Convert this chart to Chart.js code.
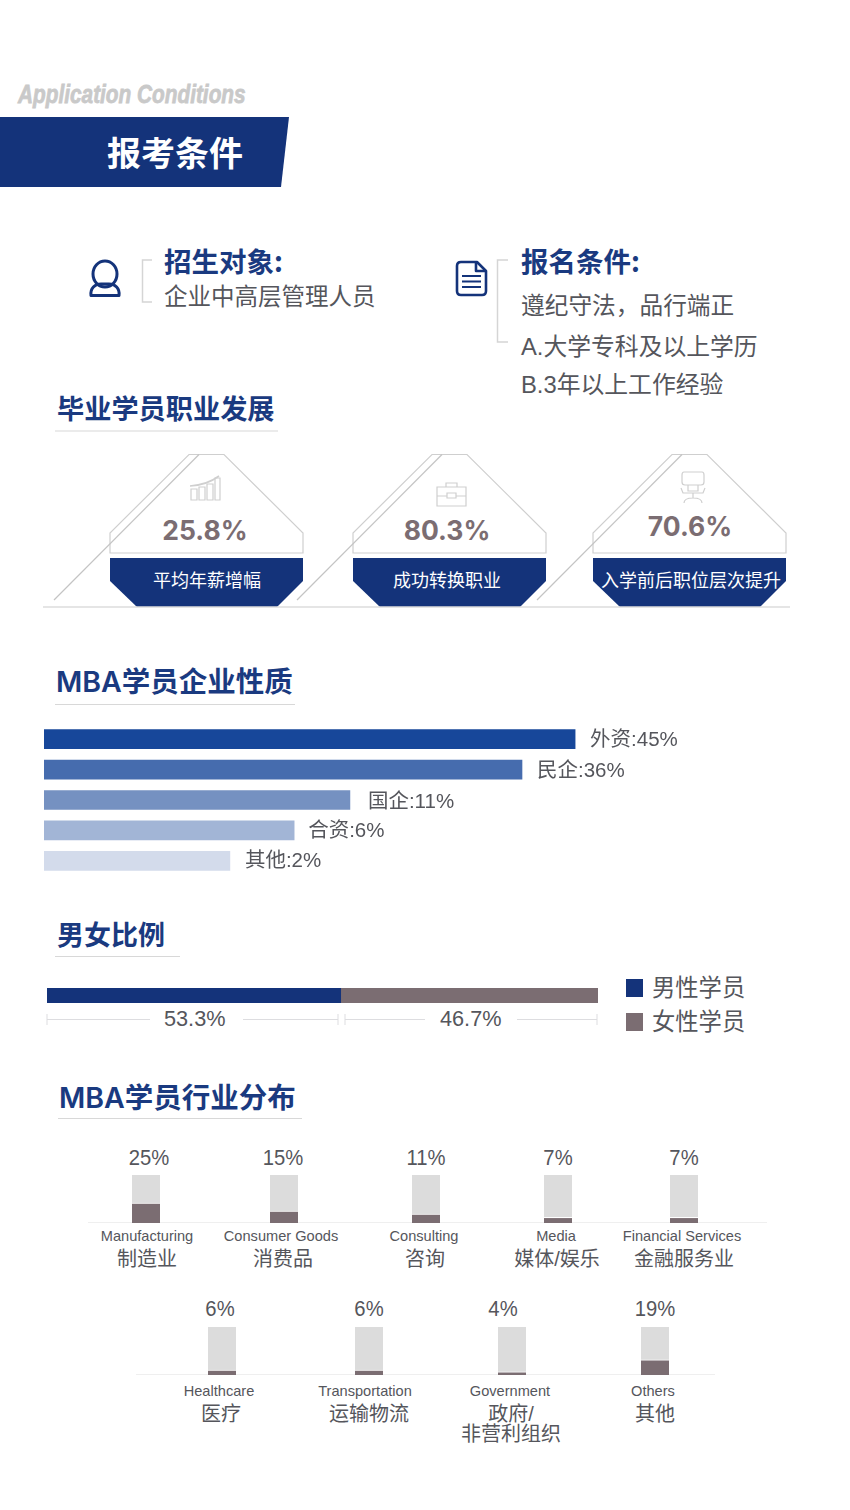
<!DOCTYPE html>
<html>
<head>
<meta charset="utf-8">
<title>报考条件</title>
<script src="https://cdn.jsdelivr.net/npm/chart.js@4/dist/chart.umd.min.js"></script>
<style>
  html, body { margin: 0; padding: 0; background: #fff; }
  #page { position: relative; width: 850px; height: 1510px; overflow: hidden;
          font-family: "Liberation Sans", "Noto Sans CJK SC", sans-serif; color: #55565c; }
  #page canvas { position: absolute; }
  #art { position: absolute; left: 0; top: 0; }
  .t { position: absolute; white-space: pre; line-height: 1; }
  .head { font-family: "Noto Sans CJK SC", sans-serif; font-weight: 700; color: #1a3a80; }
  .mba { font-family: "Inter", "Noto Sans CJK SC", sans-serif; font-weight: 600; color: #1a3a80; }
  .swatch { position: absolute; width: 17px; height: 18px; }
</style>
</head>
<body>
<div id="page">
<svg id="art" width="850" height="1510" fill="none">
  <polygon points="0,117 289,117 281,187 0,187" fill="#14337a"/>

  <!-- person -->
  <g stroke="#14337a" stroke-width="3">
    <ellipse cx="105" cy="274" rx="12" ry="13"/>
    <path d="M91 295.5 C90 288 95 284 101 284 L109 284 C115 284 120 288 119 295.5 Z" stroke-linejoin="round"/>
  </g>
  <path d="M152 260 H142.5 V302 H152" stroke="#d5d5d5" stroke-width="1.5"/>

  <!-- document -->
  <g stroke="#14337a" stroke-width="2.6" stroke-linejoin="round" transform="translate(-1,0)">
    <path d="M462 262 H478 L487 271 V291 Q487 295 483 295 H462 Q458 295 458 291 V266 Q458 262 462 262 Z"/>
    <path d="M477 263 V271 H486"/>
    <path d="M463 276 H482 M463 281.5 H482 M463 287 H482" stroke-width="2"/>
  </g>
  <path d="M508 260 H497.5 V342 H508" stroke="#d5d5d5" stroke-width="1.5"/>

  <!-- heading rules -->
  <g stroke="#d8d8d8" stroke-width="1.2">
    <path d="M55 431 H278"/>
    <path d="M55 704.5 H295"/>
    <path d="M55 956.5 H180"/>
    <path d="M58 1118.5 H302"/>
  </g>

  <!-- career panels -->
  <g id="panels"></g>
  <path d="M43 607 H790" stroke="#dcdcdc" stroke-width="1.5"/>

  <!-- panel icons -->
  <g stroke="#cfcfcf" stroke-width="1.2">
    <path d="M191 489 H197 V500 H191 Z M199 487 H205 V500 H199 Z M207 484 H213 V500 H207 Z M215 478 H220 V500 H215 Z"/>
    <path d="M190 486 Q207 485 219 476" stroke-width="1.6"/>
    <path d="M437 487 H466 V506 H437 Z M437 496 H466 M446 487 V483 H457 V487"/>
    <path d="M447 493 H456 V498 H447 Z" fill="#fff"/>
    <path d="M684 472 H702 Q704 472 704 475 V482 Q704 485 701 485 H685 Q682 485 682 482 V475 Q682 472 684 472 Z"/>
    <path d="M688 485 V491 H698 V485 M681 488 L683 493 H703 L705 488 M693 493 V498 M684 503 Q684 498 693 498 Q702 498 702 503"/>
  </g>

  <!-- gender ranges -->
  <g stroke="#dddde0" stroke-width="1">
    <path d="M47 1014 V1025 M47 1019.5 H150 M243 1019.5 H338 M338 1014 V1025"/>
    <path d="M345 1014 V1025 M345 1019.5 H425 M517 1019.5 H597 M597 1014 V1025"/>
  </g>

  <!-- industry baselines -->
  <g stroke="#efefef" stroke-width="1.2">
    <path d="M88 1222.5 H767"/>
    <path d="M136 1374.5 H715"/>
  </g>
</svg>
</div>

<script>
// chart values
var enterpriseNames = ['外资', '民企', '国企', '合资', '其他'];
var enterpriseValues = [45, 36, 11, 6, 2];
// the picture does not draw these bars to scale, so lengths are read separately (longest = 100)
var enterpriseBarLengths = [100, 90, 57.6, 47.1, 35];

var genderNames = ['男性学员', '女性学员'];
var genderValues = [53.3, 46.7];

var careerValues = ['25.8%', '80.3%', '70.6%'];
var careerNames = ['平均年薪增幅', '成功转换职业', '入学前后职位层次提升'];

var industryEnglish = ['Manufacturing', 'Consumer Goods', 'Consulting', 'Media', 'Financial Services',
                       'Healthcare', 'Transportation', 'Government', 'Others'];
var industryChinese = ['制造业', '消费品', '咨询', '媒体/娱乐', '金融服务业',
                       '医疗', '运输物流', '政府/\n非营利组织', '其他'];
var industryValues = [25, 15, 11, 7, 7, 6, 6, 4, 19];
var industryTrack = [60, 60, 60, 60, 60, 60, 60, 60, 60];

// layout
var NAVY = '#14337a';
var TAUPE = '#7b6d72';
var enterpriseColors = ['#17479a', '#466cae', '#7591c1', '#a2b5d6', '#d3dbeb'];
var enterpriseGaps = [15, 15, 18, 14, 15];
var enterpriseLift = [1, 2, 2, 1, 1];
var panelOffsets = [0, 243, 483];
var panelTextX = [205, 447, 690];
var panelTextY = [530, 530, 526];
var panelNameX = [207, 447, 691];
var industrySlots = [
  { bar: 146, pct: 149, en: 147, zh: 147, row: 0 },
  { bar: 284, pct: 283, en: 281, zh: 283, row: 0 },
  { bar: 426, pct: 426, en: 424, zh: 425, row: 0 },
  { bar: 558, pct: 558, en: 556, zh: 557, row: 0 },
  { bar: 684, pct: 684, en: 682, zh: 684, row: 0 },
  { bar: 222, pct: 220, en: 219, zh: 221, row: 1 },
  { bar: 369, pct: 369, en: 365, zh: 369, row: 1 },
  { bar: 512, pct: 503, en: 510, zh: 511, row: 1 },
  { bar: 655, pct: 655, en: 653, zh: 655, row: 1 }
];
var industryRows = [
  { pct: 1158, top: 1175, height: 48, en: 1236, zh: 1259 },
  { pct: 1309, top: 1327, height: 48, en: 1391, zh: 1414 }
];

var page = document.getElementById('page');

function addText(text, x, y, size, opts) {
  opts = opts || {};
  var el = document.createElement('div');
  el.className = 't ' + (opts.cls || '');
  el.textContent = text;
  el.style.left = x + 'px';
  el.style.top = y + 'px';
  el.style.fontSize = size + 'px';
  if (opts.color) el.style.color = opts.color;
  if (opts.font) el.style.fontFamily = opts.font;
  if (opts.weight) el.style.fontWeight = opts.weight;
  if (opts.lineHeight) el.style.lineHeight = opts.lineHeight + 'px';
  if (opts.align) el.style.textAlign = opts.align;
  // x is the left edge unless centred, y is always the middle of the first line
  var lh = opts.lineHeight || size;
  el.style.transform = (opts.center ? 'translateX(-50%) ' : '') + 'translateY(' + (-lh / 2) + 'px)' + (opts.extra || '');
  page.appendChild(el);
  return el;
}

function addCanvas(left, top, width, height) {
  var c = document.createElement('canvas');
  c.width = width;
  c.height = height;
  c.style.left = left + 'px';
  c.style.top = top + 'px';
  page.appendChild(c);
  return c;
}

// career panels
var panels = document.getElementById('panels');
var panelMarkup = '';
panelOffsets.forEach(function (dx) {
  panelMarkup += '<g transform="translate(' + dx + ',0)">' +
    '<path d="M110 553 V533 L189 454.5 H224 L303 533 V553 Z" stroke="#cfcfcf" stroke-width="1.2"/>' +
    '<path d="M199 454.5 L54 600" stroke="#c4c4c4" stroke-width="1.2"/>' +
    '<polygon points="110,558 303,558 303,581 277,607 137,607 110,581" fill="' + NAVY + '"/>' +
    '</g>';
});
panels.innerHTML = panelMarkup;

// static text
var subtitle = addText('Application Conditions', 18, 94, 26, {
  weight: 700, color: '#c9c9c9', extra: ' scaleX(0.8)'
});
subtitle.style.fontStyle = 'italic';
subtitle.style.transformOrigin = 'left center';
subtitle.style.webkitTextStroke = '0.8px #c9c9c9';

addText('报考条件', 107, 151.5, 34, { cls: 'head', color: '#fff' });
addText('招生对象:', 164, 260.5, 27.5, { cls: 'head' });
addText('企业中高层管理人员', 164, 298, 23.5);
addText('报名条件:', 521, 260.5, 27.5, { cls: 'head' });
addText('遵纪守法，品行端正', 521, 307, 23.7);
addText('A.大学专科及以上学历', 521, 347, 23.8);
addText('B.3年以上工作经验', 521, 385, 23.8);
addText('毕业学员职业发展', 57, 407.5, 27.2, { cls: 'head' });
addText('MBA学员企业性质', 56, 682, 28.5, { cls: 'mba' });
addText('男女比例', 57, 933, 27, { cls: 'head' });
addText('MBA学员行业分布', 59, 1098, 28.5, { cls: 'mba' });

careerValues.forEach(function (v, i) {
  addText(v, panelTextX[i], panelTextY[i], 26.5, { center: true, font: 'Inter, sans-serif', weight: 700, color: TAUPE });
  addText(careerNames[i], panelNameX[i], 579, 18, { center: true, color: '#fff', font: '"Noto Sans CJK SC", sans-serif' });
});

// enterprise bars, names and values are drawn right after each bar
var enterpriseLabels = {
  id: 'enterpriseLabels',
  afterDatasetsDraw: function (chart) {
    var ctx = chart.ctx;
    var bars = chart.getDatasetMeta(0).data;
    ctx.save();
    ctx.font = '20.5px "Liberation Sans", "Noto Sans CJK SC", sans-serif';
    ctx.fillStyle = '#55565c';
    ctx.textBaseline = 'middle';
    bars.forEach(function (bar, i) {
      ctx.fillText(enterpriseNames[i] + ':' + enterpriseValues[i] + '%', bar.x + enterpriseGaps[i], bar.y + enterpriseLift[i]);
    });
    ctx.restore();
  }
};

new Chart(addCanvas(44, 724, 700, 152), {
  type: 'bar',
  data: {
    labels: enterpriseNames,
    datasets: [{
      data: enterpriseBarLengths,
      backgroundColor: enterpriseColors,
      barThickness: 19
    }]
  },
  options: {
    indexAxis: 'y',
    responsive: false,
    animation: false,
    plugins: { legend: { display: false }, tooltip: { enabled: false } },
    scales: {
      x: { display: false, min: 0, max: 131.8 },
      y: { display: false }
    }
  },
  plugins: [enterpriseLabels]
});

// gender split
new Chart(addCanvas(47, 988, 551, 15), {
  type: 'bar',
  data: {
    labels: ['比例'],
    datasets: genderNames.map(function (name, i) {
      return {
        label: name,
        data: [genderValues[i]],
        backgroundColor: i === 0 ? NAVY : TAUPE,
        barPercentage: 1,
        categoryPercentage: 1
      };
    })
  },
  options: {
    indexAxis: 'y',
    responsive: false,
    animation: false,
    plugins: { legend: { display: false }, tooltip: { enabled: false } },
    scales: {
      x: { display: false, stacked: true, min: 0, max: 100 },
      y: { display: false, stacked: true }
    }
  }
});

addText(genderValues[0] + '%', 164, 1019, 21.7);
addText(genderValues[1] + '%', 440, 1019, 21.7);
genderNames.forEach(function (name, i) {
  var sw = document.createElement('div');
  sw.className = 'swatch';
  sw.style.left = '626px';
  sw.style.top = (i === 0 ? 979 : 1013) + 'px';
  sw.style.background = i === 0 ? NAVY : TAUPE;
  page.appendChild(sw);
  addText(name, 652, i === 0 ? 989 : 1023, 23.3);
});

// industry, one small chart per category because the columns are not evenly spaced
industrySlots.forEach(function (slot, i) {
  var row = industryRows[slot.row];
  new Chart(addCanvas(slot.bar - 14, row.top, 28, row.height), {
    type: 'bar',
    data: {
      labels: [industryEnglish[i]],
      datasets: [
        { data: [industryValues[i]], backgroundColor: TAUPE, order: 0, barPercentage: 1, categoryPercentage: 1,
          borderColor: '#fff', borderWidth: { top: 1 } },
        { data: [industryTrack[i]], backgroundColor: '#dcdcdc', order: 1, barPercentage: 1, categoryPercentage: 1 }
      ]
    },
    options: {
      responsive: false,
      animation: false,
      datasets: { bar: { grouped: false } },
      plugins: { legend: { display: false }, tooltip: { enabled: false } },
      scales: {
        x: { display: false },
        y: { display: false, min: 0, max: 60 }
      }
    }
  });
  addText(industryValues[i] + '%', slot.pct, row.pct, 22, { center: true, extra: ' scaleX(0.92)' });
  addText(industryEnglish[i], slot.en, row.en, 14.6, { center: true });
  addText(industryChinese[i], slot.zh, row.zh, 20, { center: true, lineHeight: 20, align: 'center' });
});
</script>
</body>
</html>
